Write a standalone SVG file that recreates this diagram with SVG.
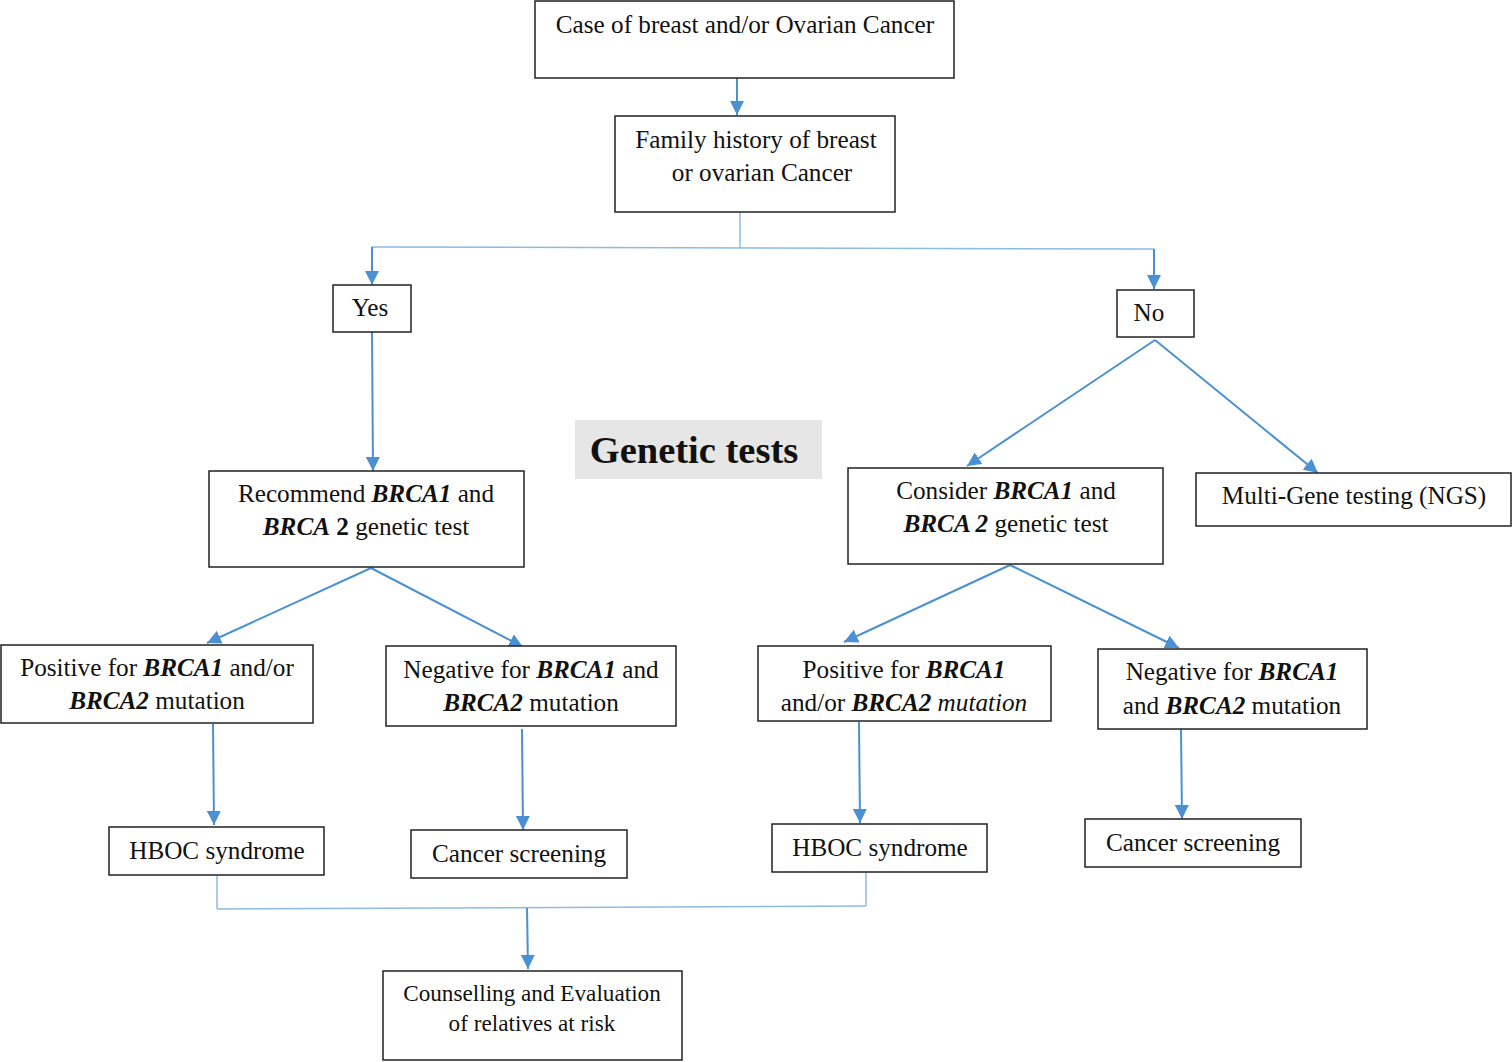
<svg xmlns="http://www.w3.org/2000/svg" width="1512" height="1062" viewBox="0 0 1512 1062">
<defs>
<marker id="ah" markerUnits="userSpaceOnUse" markerWidth="16" markerHeight="14" refX="14" refY="7" orient="auto">
<path d="M0,0 L14,7 L0,14 Z" fill="#4a90d2"/>
</marker>
<style>
.box{fill:#fff;stroke:#222;stroke-width:1.5}
.t{font-family:"Liberation Serif","Times New Roman",serif;font-size:25.2px;fill:#111;text-anchor:middle}
.bi{font-weight:bold;font-style:italic}
.b{font-weight:bold}
.i{font-style:italic}
.c{fill:none;stroke:#4a90d2;stroke-width:2}
.cl{fill:none;stroke:#8cbbe6;stroke-width:1.5}
.a{marker-end:url(#ah)}
</style>
</defs>
<rect width="1512" height="1062" fill="#fff"/>
<g id="connectors">
<line class="c a" x1="737" y1="78" x2="737" y2="115"/>
<line class="cl" x1="740" y1="212" x2="740" y2="248"/>
<line class="cl" x1="372" y1="247" x2="1154" y2="249"/>
<line class="c a" x1="372" y1="247" x2="372" y2="285"/>
<line class="c a" x1="1154" y1="249" x2="1154" y2="289"/>
<line class="c a" x1="372" y1="332" x2="373" y2="471"/>
<line class="c a" x1="1155" y1="340" x2="967" y2="466"/>
<line class="c a" x1="1155" y1="340" x2="1318" y2="473"/>
<line class="c a" x1="371" y1="568" x2="207" y2="643"/>
<line class="c a" x1="371" y1="568" x2="523" y2="647"/>
<line class="c a" x1="1010" y1="565" x2="844" y2="642"/>
<line class="c a" x1="1010" y1="565" x2="1179" y2="648"/>
<line class="c a" x1="213" y1="724" x2="214" y2="825"/>
<line class="c a" x1="522" y1="729" x2="523" y2="830"/>
<line class="c a" x1="859" y1="722" x2="860" y2="823"/>
<line class="c a" x1="1181" y1="729" x2="1182" y2="819"/>
<line class="cl" x1="217" y1="876" x2="217" y2="909"/>
<line class="cl" x1="866" y1="872" x2="866" y2="906"/>
<line class="cl" x1="217" y1="909" x2="866" y2="906"/>
<line class="c a" x1="527" y1="908" x2="528" y2="969"/>
</g>
<g id="n-case"><rect class="box" x="535" y="1" width="419" height="77"/><text class="t" x="745" y="33">Case of breast and/or Ovarian Cancer</text></g>
<g id="n-family"><rect class="box" x="615" y="116" width="280" height="96"/><text class="t" x="756" y="148">Family history of breast</text><text class="t" x="762" y="181">or ovarian Cancer</text></g>
<g id="n-yes"><rect class="box" x="333" y="285" width="78" height="47"/><text class="t" x="370" y="316">Yes</text></g>
<g id="n-no"><rect class="box" x="1117" y="290" width="77" height="47"/><text class="t" x="1149" y="321">No</text></g>
<g id="n-genetic"><rect x="575" y="420" width="247" height="59" fill="#e6e6e6"/><text class="t b" x="694" y="463" style="font-size:38.5px">Genetic tests</text></g>
<g id="n-recommend"><rect class="box" x="209" y="471" width="315" height="96"/><text class="t" x="366" y="502">Recommend <tspan class="bi">BRCA1</tspan> and</text><text class="t" x="366" y="535"><tspan class="bi">BRCA</tspan><tspan class="b"> 2</tspan> genetic test</text></g>
<g id="n-consider"><rect class="box" x="848" y="468" width="315" height="96"/><text class="t" x="1006" y="499">Consider <tspan class="bi">BRCA1</tspan> and</text><text class="t" x="1006" y="532"><tspan class="bi">BRCA 2</tspan> genetic test</text></g>
<g id="n-multigene"><rect class="box" x="1196" y="473" width="315" height="53"/><text class="t" x="1354" y="504">Multi-Gene testing (NGS)</text></g>
<g id="n-posL"><rect class="box" x="1" y="645" width="312" height="78"/><text class="t" x="157" y="676">Positive for <tspan class="bi">BRCA1</tspan> and/or</text><text class="t" x="157" y="709"><tspan class="bi">BRCA2</tspan> mutation</text></g>
<g id="n-negL"><rect class="box" x="386" y="646" width="290" height="80"/><text class="t" x="531" y="678">Negative for <tspan class="bi">BRCA1</tspan> and</text><text class="t" x="531" y="711"><tspan class="bi">BRCA2</tspan> mutation</text></g>
<g id="n-posR"><rect class="box" x="758" y="646" width="293" height="75"/><text class="t" x="904" y="678">Positive for <tspan class="bi">BRCA1</tspan></text><text class="t" x="904" y="711">and/or <tspan class="bi">BRCA2</tspan><tspan class="i"> mutation</tspan></text></g>
<g id="n-negR"><rect class="box" x="1098" y="649" width="269" height="80"/><text class="t" x="1232" y="680">Negative for <tspan class="bi">BRCA1</tspan></text><text class="t" x="1232" y="714">and <tspan class="bi">BRCA2</tspan> mutation</text></g>
<g id="n-hbocL"><rect class="box" x="109" y="827" width="215" height="48"/><text class="t" x="217" y="859">HBOC syndrome</text></g>
<g id="n-screenL"><rect class="box" x="411" y="830" width="216" height="48"/><text class="t" x="519" y="862">Cancer screening</text></g>
<g id="n-hbocR"><rect class="box" x="772" y="824" width="215" height="48"/><text class="t" x="880" y="856">HBOC syndrome</text></g>
<g id="n-screenR"><rect class="box" x="1085" y="819" width="216" height="48"/><text class="t" x="1193" y="851">Cancer screening</text></g>
<g id="n-counsel"><rect class="box" x="383" y="971" width="299" height="89"/><text class="t" x="532" y="1001" style="font-size:23.2px">Counselling and Evaluation</text><text class="t" x="532" y="1031" style="font-size:23.2px">of relatives at risk</text></g>
</svg>
